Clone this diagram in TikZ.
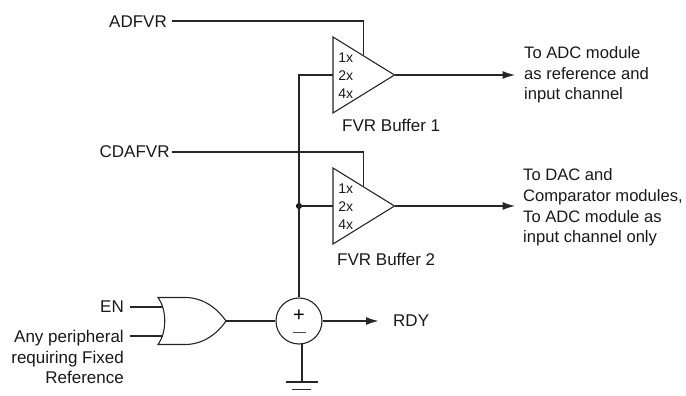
\documentclass[tikz,border=0pt]{standalone}
\usepackage{fontspec}
\setmainfont{Liberation Sans}
\usetikzlibrary{arrows.meta,calc}
\tikzset{
  wire/.style={draw=black!85,line width=1.1pt},
  arrowwire/.style={wire,-{Latex[length=12.5pt,width=8pt]}},
  lbl/.style={inner sep=0pt,font=\fontsize{17}{20.5}\selectfont,text=black!90},
  lblr/.style={lbl,anchor=east,align=right},
  lbll/.style={lbl,anchor=west,align=left},
  lblo/.style={lbll,font=\fontsize{16.6}{20.7}\selectfont},
  gain/.style={inner sep=0pt,font=\fontsize{14}{14}\selectfont,text=black!90},
  junction/.style={circle,fill=black,inner sep=0pt,minimum size=6pt},
  sumcircle/.style={circle,wire,minimum size=46pt,inner sep=0pt,fill=white},
}
\begin{document}
\begin{tikzpicture}[x=1pt,y=-1pt]
\useasboundingbox (0,0) rectangle (686,396);
% labels
\node[lbll] (adfvr) at (109,21.5) {ADFVR};
\node[lbll] (cdafvr) at (99.5,152) {CDAFVR};
\node[lblr] (en) at (124,307) {EN};
\node[lblr] (any) at (124,357) {Any peripheral\\requiring Fixed\\Reference};
\node[lbll] (b1) at (342,125.5) {FVR Buffer 1};
\node[lbll] (b2) at (337,259) {FVR Buffer 2};
\node[lblo] (o1) at (524,75) {To ADC module\\as reference and\\input channel};
\node[lblo] (o2) at (523,207.5) {To DAC and\\Comparator modules,\\To ADC module as\\input channel only};
\node[lbll] (rdy) at (393,321) {RDY};
% buffers
\coordinate (t1a) at (333,37); \coordinate (t1b) at (333,113); \coordinate (t1c) at (394.5,75);
\coordinate (t2a) at (333,168); \coordinate (t2b) at (333,244); \coordinate (t2c) at (394.5,206);
\draw[wire,line join=miter] (t1a) -- (t1c) -- (t1b) -- cycle;
\draw[wire,line join=miter] (t2a) -- (t2c) -- (t2b) -- cycle;
\node[gain] (g11) at (345.7,57.5) {1x};
\node[gain] (g12) at (345.7,75.5) {2x};
\node[gain] (g14) at (345.7,93.5) {4x};
\node[gain] (g21) at (345.7,188.5) {1x};
\node[gain] (g22) at (345.7,206.5) {2x};
\node[gain] (g24) at (345.7,224.5) {4x};
% comparator
\node[sumcircle] (cmp) at (299,321) {};
\node[inner sep=0pt,font=\fontsize{20}{20}\selectfont] (plus) at (299,315.5) {+};
\draw[line width=1pt,draw=black!70] (293,332) -- (305.5,332);
% junction
\coordinate (j) at (299,206);
\node[junction] (dot) at (j) {};
\coordinate (s1) at (299,75);
% wires
\draw[wire] (cmp.north) -- (s1) -- (t1a |- s1);
\draw[wire] (dot.center) -- (t2a |- j);
\draw[wire] (172,21) -- (363.7,21) -- (363.7,55);
\draw[wire] (172,152) -- (363.7,152) -- (363.7,186);
\draw[arrowwire] (t1c) -- (515,75);
\draw[arrowwire] (t2c) -- (515,206);
% OR gate
\coordinate (orin1) at (163,307); \coordinate (orin2) at (163,336);
\coordinate (orout) at (226,321);
\draw[wire,fill=white,line join=miter] (158,297.5) .. controls (167,310) and (167,332) .. (158,344.5)
  -- (185,344.5) .. controls (203,344.5) and (217,334) .. (orout)
  .. controls (217,308) and (203,297.5) .. (185,297.5) -- cycle;
\draw[wire] (130,307) -- (orin1);
\draw[wire] (130,336) -- (orin2);
\draw[wire] (orout) -- (cmp.west);
\draw[arrowwire] (cmp.east) -- (378.5,321);
% ground
\coordinate (g0) at (302,382);
\draw[wire] (302,343.8) -- (g0);
\draw[wire] (286,382) -- (318,382);
\draw[wire] (292,389.5) -- (311,389.5);
\end{tikzpicture}
\end{document}
